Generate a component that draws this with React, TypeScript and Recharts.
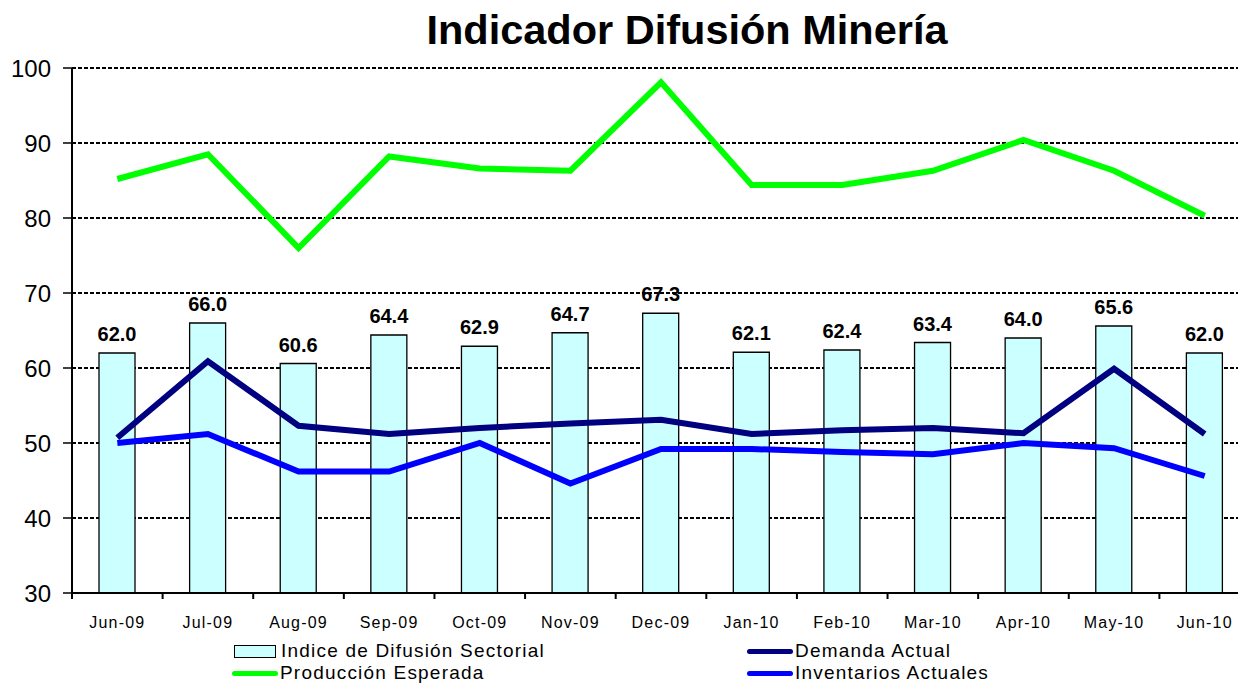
import React from 'react';
import { ComposedChart, Bar, Line, XAxis, YAxis, CartesianGrid, Legend, LabelList } from 'recharts';

const months = ['Jun-09', 'Jul-09', 'Aug-09', 'Sep-09', 'Oct-09', 'Nov-09', 'Dec-09', 'Jan-10', 'Feb-10', 'Mar-10', 'Apr-10', 'May-10', 'Jun-10'];
const indice = [62.0, 66.0, 60.6, 64.4, 62.9, 64.7, 67.3, 62.1, 62.4, 63.4, 64.0, 65.6, 62.0];
const produccion = [85.2, 88.5, 76.0, 88.2, 86.6, 86.3, 98.1, 84.4, 84.4, 86.3, 90.4, 86.3, 80.3];
const demanda = [50.7, 60.9, 52.3, 51.2, 52.0, 52.6, 53.1, 51.2, 51.7, 52.0, 51.3, 59.9, 51.2];
const inventarios = [50.0, 51.2, 46.2, 46.2, 50.0, 44.6, 49.2, 49.2, 48.8, 48.5, 50.0, 49.3, 45.6];
const yTicks = [30, 40, 50, 60, 70, 80, 90, 100];

const data = months.map((m, i) => ({
  month: m,
  indice: indice[i],
  produccion: produccion[i],
  demanda: demanda[i],
  inventarios: inventarios[i],
}));

const FONT = '"Liberation Sans", Arial, sans-serif';
const BAND = (1250 - 72) / months.length;

function MonthTick(props: any) {
  const { x, y, payload } = props;
  return (
    <g>
      <line x1={x - BAND / 2} x2={x - BAND / 2} y1={y - 8} y2={y - 2} stroke="#000" strokeWidth={2} />
      {payload.index === months.length - 1 && (
        <line x1={x + BAND / 2} x2={x + BAND / 2} y1={y - 8} y2={y - 2} stroke="#000" strokeWidth={2} />
      )}
      <text x={x} y={y + 27} textAnchor="middle" fontSize={16} letterSpacing={1.2} fill="#000" fontFamily={FONT}>
        {payload.value}
      </text>
    </g>
  );
}

const legendItems = [
  { label: 'Indice de Difusión Sectorial', type: 'box', color: '#CCFFFF', left: 234, top: 5 },
  { label: 'Producción Esperada', type: 'line', color: '#00FF00', left: 232, top: 27 },
  { label: 'Demanda Actual', type: 'line', color: '#000080', left: 747, top: 5 },
  { label: 'Inventarios Actuales', type: 'line', color: '#0000FF', left: 747, top: 27 },
];

function LegendContent() {
  return (
    <div style={{ position: 'relative', width: 1260, height: 48, fontFamily: FONT }}>
      {legendItems.map((it) => (
        <div key={it.label} style={{ position: 'absolute', left: it.left, top: it.top, display: 'flex', alignItems: 'center', height: 22 }}>
          {it.type === 'box' ? (
            <div style={{ width: 40, height: 11, background: it.color, border: '1.5px solid #000', marginRight: 5 }} />
          ) : (
            <div style={{ width: 46, height: 5, background: it.color, borderRadius: 3, marginRight: 2 }} />
          )}
          <span style={{ fontSize: 19, letterSpacing: 1.2, color: '#000', whiteSpace: 'nowrap' }}>{it.label}</span>
        </div>
      ))}
    </div>
  );
}

export default function App() {
  return (
    <div style={{ position: 'absolute', left: 0, top: 0, width: 1238, height: 683, overflow: 'hidden', background: '#fff' }}>
      <div style={{ position: 'absolute', left: 0, top: 6, width: 1238, textAlign: 'center', fontFamily: FONT, fontWeight: 'bold', fontSize: 41.5, paddingLeft: 136, boxSizing: 'border-box' }}>
        Indicador Difusión Minería
      </div>
      <ComposedChart width={1260} height={683} data={data} margin={{ top: 68, right: 10, left: 0, bottom: 0 }}>
        <CartesianGrid vertical={false} stroke="#000" strokeWidth={1.2} strokeDasharray="4 2" shapeRendering="crispEdges" />
        <XAxis
          dataKey="month"
          height={42}
          tick={<MonthTick />}
          tickLine={false}
          interval={0}
          axisLine={{ stroke: '#000', strokeWidth: 2 }}
        />
        <YAxis
          domain={[30, 100]}
          ticks={yTicks}
          width={72}
          tickSize={9}
          tickMargin={12}
          tickLine={{ stroke: '#000', strokeWidth: 1.5 }}
          axisLine={{ stroke: '#000', strokeWidth: 2 }}
          tick={{ fontSize: 24, fill: '#000', fontFamily: FONT }}
          allowDataOverflow
        />
        <Legend verticalAlign="bottom" height={48} content={<LegendContent />} wrapperStyle={{ left: 0, width: 1260 }} />
        <Bar dataKey="indice" name="Indice de Difusión Sectorial" fill="#CCFFFF" stroke="#000" strokeWidth={1.3} barSize={36} isAnimationActive={false}>
          <LabelList
            dataKey="indice"
            position="top"
            offset={12}
            formatter={(v: any) => Number(v).toFixed(1)}
            style={{ fontSize: 20, fontWeight: 'bold', fill: '#000', fontFamily: FONT }}
          />
        </Bar>
        <Line dataKey="produccion" name="Producción Esperada" stroke="#00FF00" strokeWidth={6} dot={false} isAnimationActive={false} />
        <Line dataKey="demanda" name="Demanda Actual" stroke="#000080" strokeWidth={6} dot={false} isAnimationActive={false} />
        <Line dataKey="inventarios" name="Inventarios Actuales" stroke="#0000FF" strokeWidth={6} dot={false} isAnimationActive={false} />
      </ComposedChart>
    </div>
  );
}
